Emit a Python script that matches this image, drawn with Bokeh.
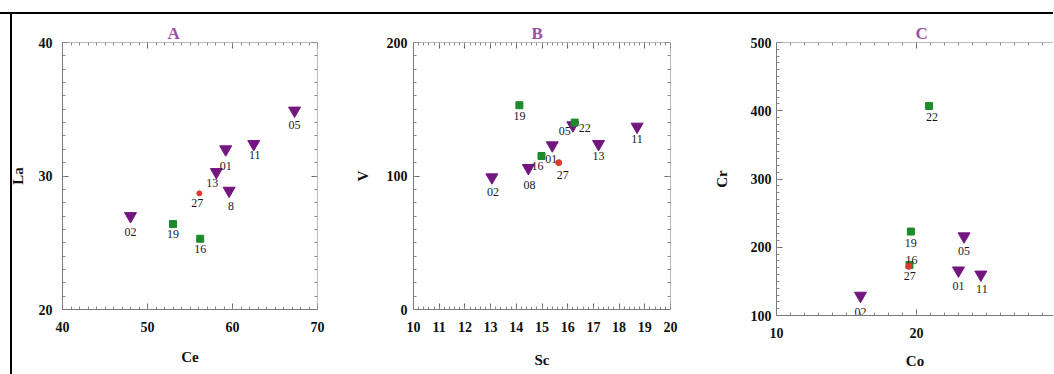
from bokeh.plotting import figure
from bokeh.models import LinearAxis, SingleIntervalTicker, Range1d
from bokeh.layouts import row
from bokeh.core.properties import value
from bokeh.embed import file_html
from bokeh.resources import INLINE

# ---------------- data ----------------
# Panel A : Ce (x) vs La (y)
a_tri_id = ["02", "13", "01", "8", "11", "05"]
a_tri_ce = [48.0, 58.1, 59.2, 59.6, 62.5, 67.3]
a_tri_la = [27.0, 30.3, 32.0, 28.9, 32.4, 34.9]
a_sq_id = ["19", "16"]
a_sq_ce = [53.0, 56.2]
a_sq_la = [26.4, 25.3]
a_ci_id = ["27"]
a_ci_ce = [56.1]
a_ci_la = [28.7]

# Panel B : Sc (x) vs V (y)
b_tri_id = ["02", "08", "01", "05", "13", "11"]
b_tri_sc = [13.05, 14.47, 15.4, 16.2, 17.2, 18.7]
b_tri_v = [99, 106, 123, 138, 124, 137]
b_sq_id = ["19", "16", "22"]
b_sq_sc = [14.12, 14.98, 16.27]
b_sq_v = [153, 115, 140]
b_ci_id = ["27"]
b_ci_sc = [15.65]
b_ci_v = [110]

# Panel C : Co (x) vs Cr (y)
c_tri_id = ["02", "01", "05", "11"]
c_tri_co = [16.0, 23.0, 23.4, 24.6]
c_tri_cr = [129, 166, 216, 160]
c_sq_id = ["19", "22", "16"]
c_sq_co = [19.6, 20.9, 19.5]
c_sq_cr = [223, 407, 174]
c_ci_id = ["27"]
c_ci_co = [19.45]
c_ci_cr = [172]

# label placement (pixels, +dy = down)
off_a = {"02": (0, 16), "13": (-4, 11), "01": (0, 17), "8": (2, 15), "11": (1, 11),
         "05": (0, 14), "19": (0, 10), "16": (0, 10), "27": (-2, 10)}
off_b = {"02": (1, 15), "08": (1, 17), "01": (-1, 14), "05": (-8, 6), "13": (0, 12),
         "11": (0, 12), "19": (0, 11), "16": (-4, 10), "22": (10, 5), "27": (4, 12)}
off_c = {"02": (0, 16), "01": (0, 16), "05": (0, 15), "11": (1, 14), "19": (0, 11),
         "22": (3, 11), "16": (2, -5), "27": (1, 10)}

PURPLE = "#74167f"
GREEN = "#1d8a2c"
RED = "#e0392c"
SERIF = "Liberation Serif"
LINE = "#7a7a7a"


def tick_axis(fixed, ticker_args):
    ax = LinearAxis(fixed_location=fixed,
                    ticker=SingleIntervalTicker(interval=ticker_args[0],
                                                num_minor_ticks=ticker_args[1]))
    ax.axis_line_color = LINE
    ax.major_tick_in = 0
    ax.major_tick_out = 6
    ax.minor_tick_in = 0
    ax.minor_tick_out = 3
    ax.major_tick_line_color = "#666666"
    ax.minor_tick_line_color = "#888888"
    ax.major_label_text_color = None
    ax.major_label_text_font_size = "0px"
    ax.major_label_standoff = 0
    return ax


def make_panel(title, title_off, xlabel, ylabel, xr, yr, xt, yt, groups, offsets,
               fw, fh, bl, br, bt, bb, xstand, ystand, ytick_stand, right_axis=True):
    p = figure(frame_width=fw, frame_height=fh, min_border_left=bl, min_border_right=br,
               min_border_top=bt, min_border_bottom=bb, x_range=Range1d(*xr),
               y_range=Range1d(*yr), output_backend="svg", toolbar_location=None)
    p.outline_line_color = None
    p.grid.visible = False
    p.background_fill_color = "white"
    p.border_fill_color = None

    p.title.text = title
    p.title.align = "left"
    p.title.offset = title_off
    p.title.standoff = 0
    p.title.text_font = SERIF
    p.title.text_font_size = "17px"
    p.title.text_font_style = "bold"
    p.title.text_color = "#9a4fa6"

    # label axes (no ticks of their own)
    for ax, lab, targs in ((p.xaxis[0], xlabel, xt), (p.yaxis[0], ylabel, yt)):
        ax.ticker = SingleIntervalTicker(interval=targs[0], num_minor_ticks=targs[1])
        ax.axis_line_color = LINE
        ax.major_tick_in = 0
        ax.major_tick_out = 0
        ax.minor_tick_in = 0
        ax.minor_tick_out = 0
        ax.major_label_text_font = SERIF
        ax.major_label_text_font_style = "bold"
        ax.major_label_text_font_size = "14px"
        ax.major_label_text_color = "#111"
        ax.axis_label = lab
        ax.axis_label_text_font = SERIF
        ax.axis_label_text_font_style = "bold"
        ax.axis_label_text_font_size = "15px"
        ax.axis_label_text_color = "#111"
    p.xaxis[0].major_label_standoff = 12
    p.yaxis[0].major_label_standoff = ytick_stand
    p.xaxis[0].axis_label_standoff = xstand
    p.yaxis[0].axis_label_standoff = ystand

    # inward ticks: axes fixed on the frame edges, ticks pointing into the frame
    p.add_layout(tick_axis(yr[0], xt), "above")   # bottom edge, ticks up
    p.add_layout(tick_axis(xr[0], yt), "right")   # left edge, ticks right
    p.add_layout(tick_axis(yr[1], xt), "below")   # top edge, ticks down
    if right_axis:
        p.add_layout(tick_axis(xr[1], yt), "left")  # right edge, ticks left

    for ids, xs, ys, marker, color, size in groups:
        p.scatter(xs, ys, marker=marker, size=size, fill_color=color, line_color=color)
        dx = [offsets[i][0] for i in ids]
        dy = [offsets[i][1] for i in ids]
        p.text(xs, ys, text=ids, x_offset=dx, y_offset=dy, text_align="center",
               text_baseline="middle", text_font=value(SERIF), text_font_size="12px",
               text_color="#1a1a1a")
    return p


pa = make_panel("A", 105, "Ce", "La", (40, 70), (20, 40), (10, 10), (10, 10),
                [(a_sq_id, a_sq_ce, a_sq_la, "square", GREEN, 7),
                 (a_ci_id, a_ci_ce, a_ci_la, "circle", RED, 5),
                 (a_tri_id, a_tri_ce, a_tri_la, "inverted_triangle", PURPLE, 12)],
                off_a, 255, 267, 62, 34, 40, 67, 14, 10, 10)

pb = make_panel("B", 118, "Sc", "V", (10, 20), (0, 200), (1, 5), (100, 10),
                [(b_tri_id, b_tri_sc, b_tri_v, "inverted_triangle", PURPLE, 12),
                 (b_sq_id, b_sq_sc, b_sq_v, "square", GREEN, 7),
                 (b_ci_id, b_ci_sc, b_ci_v, "circle", RED, 6)],
                off_b, 257, 267, 58, 40, 42, 64, 17, 13, 6)

pc = make_panel("C", 139, "Co", "Cr", (10, 29.79), (100, 500), (10, 10), (100, 10),
                [(c_tri_id, c_tri_co, c_tri_cr, "inverted_triangle", PURPLE, 12),
                 (c_sq_id, c_sq_co, c_sq_cr, "square", GREEN, 7),
                 (c_ci_id, c_ci_co, c_ci_cr, "circle", RED, 6)],
                off_c, 277, 273, 63, 0, 42, 58, 12, 18, 5, right_axis=False)

layout = row(pa, pb, pc, spacing=0,
             styles={"background-image": "linear-gradient(#000,#000), linear-gradient(#000,#000)",
                     "background-size": "100% 2px, 2px 100%",
                     "background-position": "0px 12px, 10px 12px",
                     "background-repeat": "no-repeat"})

open("out.html", "w").write(file_html(layout, INLINE))
